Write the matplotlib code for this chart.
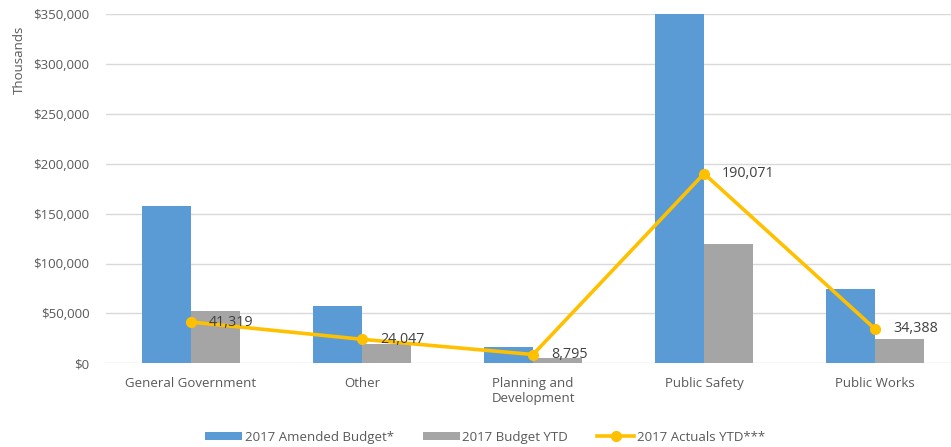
import numpy as np
import matplotlib
matplotlib.use('Agg')
import matplotlib.pyplot as plt
from matplotlib.ticker import FuncFormatter

plt.rcParams['font.family'] = ['Open Sans', 'DejaVu Sans']

categories = ['General Government', 'Other', 'Planning and\nDevelopment', 'Public Safety', 'Public Works']
amended_budget = [157500, 57000, 16300, 360000, 74500]
budget_ytd = [52500, 19000, 5300, 120000, 24300]
actuals_ytd = [41319, 24047, 8795, 190071, 34388]

BLUE = '#5B9BD5'
GRAY = '#A5A5A5'
GOLD = '#FFC000'
TEXT = '#595959'

fig = plt.figure(figsize=(9.51, 4.47), dpi=100)
ax = fig.add_axes([106 / 951, 1 - 363.3 / 447, 1 - 106 / 951, (363.3 - 14) / 447])

x = np.arange(len(categories))
w = 49 / 171
b1 = ax.bar(x - w / 2, amended_budget, w, color=BLUE, label='2017 Amended Budget*', zorder=2)
b2 = ax.bar(x + w / 2, budget_ytd, w, color=GRAY, label='2017 Budget YTD', zorder=2)
ln, = ax.plot(x, actuals_ytd, color=GOLD, lw=2.6, marker='o', ms=7, label='2017 Actuals YTD***', zorder=3)

for xi, v in zip(x, actuals_ytd):
    ax.annotate(f'{v:,}', (xi, v), xytext=(13, 0), textcoords='offset points',
                ha='left', va='center', fontsize=10.3, color='#404040', zorder=4)

ax.set_xlim(-0.497, 4.444)
ax.set_ylim(0, 350000)
ax.set_yticks(np.arange(0, 350001, 50000))
ax.yaxis.set_major_formatter(FuncFormatter(lambda v, p: f'${v:,.0f}'))
ax.set_xticks(x)
ax.set_xticklabels(categories)
ax.tick_params(axis='y', length=0, pad=12, labelsize=9.5, labelcolor=TEXT)
ax.tick_params(axis='x', length=0, pad=10, labelsize=9.5, labelcolor=TEXT)
ax.grid(axis='y', color='#D9D9D9', lw=1, zorder=0)
for s in ax.spines.values():
    s.set_visible(False)
ax.set_ylabel('Thousands', fontsize=9.5, color=TEXT)
ax.yaxis.set_label_coords(-80 / 845, 0.87)

fig.legend([b1, b2, ln], [b1.get_label(), b2.get_label(), ln.get_label()],
           loc='center', bbox_to_anchor=(0.51, 0.022), ncol=3, frameon=False,
           fontsize=9.5, labelcolor=TEXT, handlelength=2.8, handleheight=0.6,
           handletextpad=0.2, columnspacing=2.2)

fig.savefig('out.png', dpi=100)
